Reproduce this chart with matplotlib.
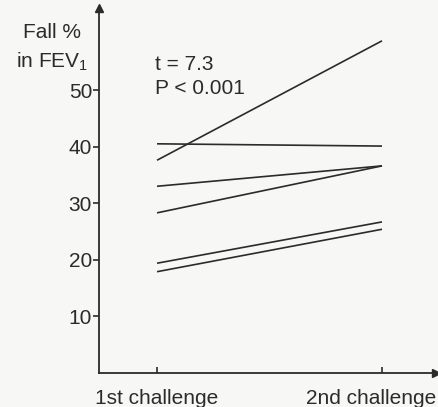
import numpy as np
import matplotlib
matplotlib.use('Agg')
import matplotlib.pyplot as plt

plt.rcParams['font.family'] = ['Liberation Sans', 'DejaVu Sans']
plt.rcParams['mathtext.fontset'] = 'custom'
plt.rcParams['mathtext.rm'] = 'Liberation Sans'

# fall in FEV1 (%) for each subject at the two challenges
first = [37.6, 40.5, 33.0, 28.3, 19.4, 17.9]
second = [58.7, 40.1, 36.6, 36.6, 26.7, 25.4]
challenges = ['1st challenge', '2nd challenge']
yticks = [10, 20, 30, 40, 50]

ink = '#2b2b2b'
bg = '#f7f7f5'
fs = 15

W, H = 438, 407
fig = plt.figure(figsize=(W / 100, H / 100), dpi=100, facecolor=bg)
ax = fig.add_axes([99 / W, 34 / H, 337 / W, 365 / H])
ax.set_facecolor(bg)

for a, b in zip(first, second):
    ax.plot([1, 2], [a, b], color=ink, lw=1.2, solid_capstyle='butt')

ax.set_xlim(0.742, 2.24)
ax.set_ylim(0, 64.5)

for s in ['top', 'right']:
    ax.spines[s].set_visible(False)
for s in ['left', 'bottom']:
    ax.spines[s].set_color(ink)
    ax.spines[s].set_linewidth(1.3)

# arrow heads on the axes
ax.plot(0, 1, marker='^', ms=6, color=ink, transform=ax.transAxes, clip_on=False)
ax.plot(1, 0, marker='>', ms=6, color=ink, transform=ax.transAxes, clip_on=False)

ax.set_yticks(yticks)
ax.tick_params(axis='y', direction='out', length=4, width=1.2, color=ink,
               labelsize=fs, labelcolor=ink, pad=1)
ax.set_xticks([1, 2])
ax.set_xticklabels([])
ax.tick_params(axis='x', direction='in', length=4, width=1.2, color=ink)

fig.text(157 / W, 1 - 398 / H, challenges[0], ha='center', va='center',
         fontsize=fs, color=ink)
fig.text(436 / W, 1 - 398 / H, challenges[1], ha='right', va='center',
         fontsize=fs, color=ink)

fig.text(52 / W, 1 - 33 / H, 'Fall %', ha='center', va='center',
         fontsize=fs, color=ink)
fig.text(52 / W, 1 - 62 / H, 'in FEV$_1$', ha='center', va='center',
         fontsize=fs, color=ink)
fig.text(155 / W, 1 - 64 / H, 't = 7.3', ha='left', va='center',
         fontsize=fs, color=ink)
fig.text(155 / W, 1 - 89 / H, 'P < 0.001', ha='left', va='center',
         fontsize=fs, color=ink)

fig.savefig('out.png', dpi=100, facecolor=bg)
